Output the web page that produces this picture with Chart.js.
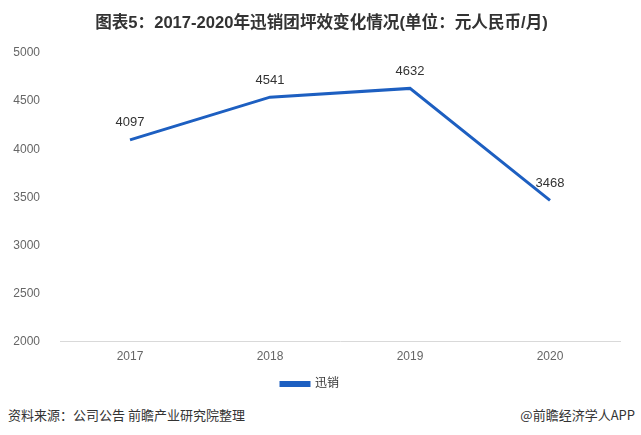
<!DOCTYPE html>
<html>
<head>
<meta charset="utf-8">
<script src="https://cdn.jsdelivr.net/npm/chart.js@4/dist/chart.umd.min.js"></script>
<style>
  body { margin: 0; background: #fff; }
  #wrap { position: relative; width: 641px; height: 435px; }
  #chart { position: absolute; left: 0; top: 0; }
  #title { position: absolute; left: 0; width: 643px; top: 9px; text-align: center;
           font: bold 16.6px "Liberation Sans", "Noto Sans CJK SC", sans-serif; color: #333; }
  .foot { position: absolute; top: 405px; font: 13px "Noto Sans CJK SC", sans-serif; color: #333; }
</style>
</head>
<body>
<div id="wrap">
  <canvas id="chart" width="641" height="400"></canvas>
  <div id="title">图表5：2017-2020年迅销团坪效变化情况(单位：元人民币/月)</div>
  <div class="foot" style="left:8px;">资料来源：公司公告 前瞻产业研究院整理</div>
  <div class="foot" style="right:6px;">@前瞻经济学人APP</div>
</div>
<script>
// data
const years = ["2017", "2018", "2019", "2020"];
const sales = [4097, 4541, 4632, 3468];
const yTicks = [2000, 2500, 3000, 3500, 4000, 4500, 5000];

const fontFamily = '"Liberation Sans", "Noto Sans CJK SC", sans-serif';

// value labels above each point
const pointLabels = {
  id: "pointLabels",
  afterDatasetsDraw(chart) {
    const ctx = chart.ctx;
    const meta = chart.getDatasetMeta(0);
    ctx.save();
    ctx.font = "13px " + fontFamily;
    ctx.fillStyle = "#333";
    ctx.textAlign = "center";
    ctx.textBaseline = "middle";
    meta.data.forEach((pt, i) => {
      ctx.fillText(sales[i], pt.x, pt.y - 17);
    });
    ctx.restore();
  }
};

new Chart("chart", {
  type: "line",
  data: {
    labels: years,
    datasets: [{
      label: "迅销",
      data: sales,
      borderColor: "#1d5fc1",
      backgroundColor: "#1d5fc1",
      borderWidth: 3,
      pointRadius: 0,
      tension: 0,
      fill: false
    }]
  },
  options: {
    responsive: false,
    animation: false,
    layout: { padding: { left: 0, right: 21, top: 53, bottom: 0 } },
    scales: {
      x: {
        offset: true,
        grid: { display: false },
        border: { color: "#d9d9d9" },
        ticks: { color: "#666", font: { size: 12, family: fontFamily }, padding: 0 }
      },
      y: {
        min: 2000,
        max: 5000,
        afterFit(scale) { scale.width = 60; },
        afterBuildTicks(scale) { scale.ticks = yTicks.map(v => ({ value: v })); },
        grid: { display: false },
        border: { display: false },
        ticks: {
          color: "#666",
          font: { size: 12, family: fontFamily },
          padding: 12,
          callback: v => String(v)
        }
      }
    },
    plugins: {
      legend: {
        position: "bottom",
        labels: {
          color: "#333",
          font: { size: 12, family: fontFamily },
          boxWidth: 28,
          boxHeight: 3,
          padding: 14
        }
      },
      tooltip: { enabled: false }
    }
  },
  plugins: [pointLabels]
});
</script>
</body>
</html>
